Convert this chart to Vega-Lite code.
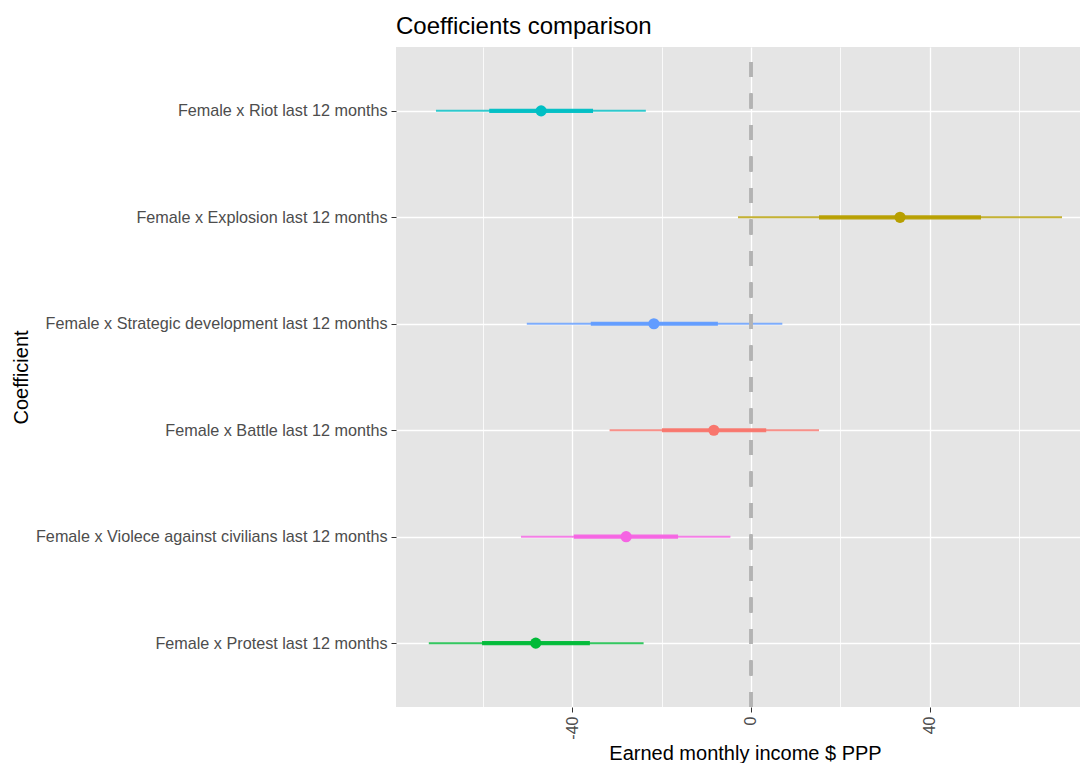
{
  "$schema": "https://vega.github.io/schema/vega-lite/v6.json",
  "width": 684,
  "height": 660,
  "autosize": {"type": "none"},
  "padding": {"left": 396, "top": 47, "right": 0, "bottom": 56},
  "background": "white",
  "title": {
    "text": "Coefficients comparison",
    "anchor": "start",
    "frame": "group",
    "fontSize": 24,
    "font": "Liberation Sans",
    "fontWeight": "normal",
    "color": "#000000",
    "baseline": "alphabetic",
    "offset": -12
  },
  "config": {
    "view": {"fill": "#E5E5E5", "stroke": null},
    "font": "Liberation Sans"
  },
  "data": {
    "values": [
      {"term": "Female x Riot last 12 months", "lo_outer": -70.4, "lo_inner": -58.5, "estimate": -46.9, "hi_inner": -35.3, "hi_outer": -23.5},
      {"term": "Female x Explosion last 12 months", "lo_outer": -2.9, "lo_inner": 15.2, "estimate": 33.3, "hi_inner": 51.4, "hi_outer": 69.5},
      {"term": "Female x Strategic development last 12 months", "lo_outer": -50.1, "lo_inner": -35.8, "estimate": -21.7, "hi_inner": -7.4, "hi_outer": 7.0},
      {"term": "Female x Battle last 12 months", "lo_outer": -31.6, "lo_inner": -19.9, "estimate": -8.3, "hi_inner": 3.4, "hi_outer": 15.2},
      {"term": "Female x Violece against civilians last 12 months", "lo_outer": -51.4, "lo_inner": -39.6, "estimate": -27.9, "hi_inner": -16.3, "hi_outer": -4.6},
      {"term": "Female x Protest last 12 months", "lo_outer": -72.0, "lo_inner": -60.1, "estimate": -48.1, "hi_inner": -36.0, "hi_outer": -24.0}
    ]
  },
  "layer": [
    {
      "mark": {"type": "rule", "strokeWidth": 2, "opacity": 0.8},
      "encoding": {
        "x": {
          "field": "lo_outer",
          "type": "quantitative",
          "title": "Earned monthly income $ PPP",
          "scale": {"domain": [-79.33, 73.52], "nice": false, "zero": false},
          "axis": {
            "values": [-60, -40, -20, 0, 20, 40, 60],
            "labelExpr": "datum.value % 40 === 0 ? '' + datum.value : ''",
            "labelAngle": 270,
            "labelFontSize": 16,
            "labelColor": "#4D4D4D",
            "labelPadding": 4,
            "tickSize": 5,
            "tickColor": "#333333",
            "tickOpacity": {"condition": {"test": "datum.value % 40 === 0", "value": 1}, "value": 0},
            "domain": false,
            "grid": true,
            "gridColor": "#FFFFFF",
            "gridWidth": {"condition": {"test": "datum.value % 40 === 0", "value": 1.3}, "value": 0.8},
            "titleFontSize": 20,
            "titleFontWeight": "normal",
            "titleColor": "#000000",
            "titlePadding": 4,
            "titleX": 349
          }
        },
        "x2": {"field": "hi_outer"},
        "y": {
          "field": "term",
          "type": "nominal",
          "title": "Coefficient",
          "sort": [
            "Female x Riot last 12 months",
            "Female x Explosion last 12 months",
            "Female x Strategic development last 12 months",
            "Female x Battle last 12 months",
            "Female x Violece against civilians last 12 months",
            "Female x Protest last 12 months"
          ],
          "scale": {"type": "point", "padding": 0.6},
          "axis": {
            "grid": true,
            "gridColor": "#FFFFFF",
            "gridWidth": 1.3,
            "domain": false,
            "tickSize": 5,
            "tickColor": "#333333",
            "labelPadding": 4,
            "labelFontSize": 16.2,
            "labelColor": "#4D4D4D",
            "labelLimit": 500,
            "titleFontSize": 20,
            "titleFontWeight": "normal",
            "titleColor": "#000000",
            "titleAngle": 270,
            "titleBaseline": "alphabetic",
            "titleAlign": "center",
            "titleX": -369,
            "titleY": 330
          }
        },
        "color": {
          "field": "term",
          "type": "nominal",
          "legend": null,
          "scale": {
            "domain": [
              "Female x Battle last 12 months",
              "Female x Explosion last 12 months",
              "Female x Protest last 12 months",
              "Female x Riot last 12 months",
              "Female x Strategic development last 12 months",
              "Female x Violece against civilians last 12 months"
            ],
            "range": ["#F8766D", "#B79F00", "#00BA38", "#00BFC4", "#619CFF", "#F564E3"]
          }
        }
      }
    },
    {
      "mark": {"type": "rule", "strokeWidth": 4.2, "opacity": 0.95},
      "encoding": {
        "x": {"field": "lo_inner", "type": "quantitative"},
        "x2": {"field": "hi_inner"},
        "y": {"field": "term", "type": "nominal", "sort": [
            "Female x Riot last 12 months",
            "Female x Explosion last 12 months",
            "Female x Strategic development last 12 months",
            "Female x Battle last 12 months",
            "Female x Violece against civilians last 12 months",
            "Female x Protest last 12 months"
          ]},
        "color": {"field": "term", "type": "nominal", "legend": null}
      }
    },
    {
      "mark": {"type": "point", "filled": true, "size": 125, "opacity": 1},
      "encoding": {
        "x": {"field": "estimate", "type": "quantitative"},
        "y": {"field": "term", "type": "nominal", "sort": [
            "Female x Riot last 12 months",
            "Female x Explosion last 12 months",
            "Female x Strategic development last 12 months",
            "Female x Battle last 12 months",
            "Female x Violece against civilians last 12 months",
            "Female x Protest last 12 months"
          ]},
        "color": {"field": "term", "type": "nominal", "legend": null}
      }
    },
    {
      "mark": {"type": "rule", "strokeDash": [15, 16.5], "strokeDashOffset": 16.5, "strokeWidth": 2.7, "color": "#B3B3B3"},
      "encoding": {
        "x": {"datum": 0, "type": "quantitative"}
      }
    }
  ]
}
